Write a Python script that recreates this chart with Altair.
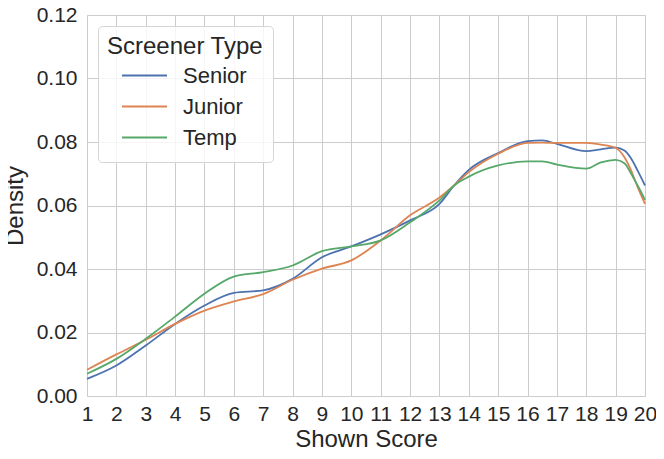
import altair as alt
import pandas as pd

xs = [1, 2, 3, 4, 5, 6, 7, 8, 9, 10, 11, 12, 13, 13.5, 14, 15, 16, 16.5, 17, 18, 18.5,
      19, 19.3, 19.5, 19.75, 20]
senior = [0.0054, 0.0096, 0.0159, 0.0227, 0.0285, 0.0325, 0.0333, 0.0369, 0.0437, 0.0471,
          0.0509, 0.0553, 0.0605, 0.0663, 0.0712, 0.0765, 0.0803, 0.0805, 0.0794, 0.0771,
          0.0777, 0.0782, 0.0773, 0.0752, 0.0710, 0.0663]
junior = [0.00825, 0.0131, 0.0177, 0.0227, 0.0269, 0.0298, 0.0321, 0.0366, 0.0401, 0.0427,
          0.0490, 0.0569, 0.0625, 0.0663, 0.0705, 0.0763, 0.0797, 0.0798, 0.0797, 0.0797,
          0.0792, 0.0782, 0.0752, 0.0716, 0.0658, 0.0605]
temp = [0.0070, 0.0117, 0.0180, 0.0250, 0.0322, 0.0376, 0.0390, 0.0411, 0.0456, 0.0471,
        0.0490, 0.0547, 0.0616, 0.0663, 0.0691, 0.0726, 0.0739, 0.0739, 0.0729, 0.0716,
        0.0736, 0.0744, 0.0733, 0.0705, 0.0663, 0.0618]
groups = ["Senior", "Junior", "Temp"]
colors = ["#4c72b0", "#dd8452", "#55a868"]

rows = []
for g, vals in zip(groups, [senior, junior, temp]):
    for x, v in zip(xs, vals):
        rows.append({"Shown Score": x, "Density": v, "Screener Type": g})
df = pd.DataFrame(rows)

font = "Liberation Sans"
txt = "#262626"
chart = alt.Chart(df).mark_line(strokeWidth=1.8, interpolate="monotone").encode(
    x=alt.X("Shown Score:Q", scale=alt.Scale(domain=[1, 20], nice=False, zero=False),
            axis=alt.Axis(values=list(range(1, 21)), format="d", labelFontSize=21,
                          titleFontSize=24, titleFontWeight="normal", labelColor=txt,
                          titleColor=txt, ticks=False, domain=False, labelPadding=7,
                          gridColor="#cccccc", labelFont=font, titleFont=font,
                          labelOverlap=False, labelFlush=False, titlePadding=3)),
    y=alt.Y("Density:Q", scale=alt.Scale(domain=[0, 0.12], nice=False),
            axis=alt.Axis(values=[0, 0.02, 0.04, 0.06, 0.08, 0.10, 0.12], format=".2f",
                          labelFontSize=21, titleFontSize=24, titleFontWeight="normal",
                          labelColor=txt, titleColor=txt, ticks=False,
                          domain=False, labelPadding=10, gridColor="#cccccc",
                          labelFont=font, titleFont=font, titlePadding=9,
                          labelFlush=False)),
    color=alt.Color("Screener Type:N", scale=alt.Scale(domain=groups, range=colors),
                    legend=alt.Legend(orient="none", legendX=11, legendY=11,
                                      titleFontSize=24, labelFontSize=22,
                                      titleFontWeight="normal", titleColor=txt,
                                      labelColor=txt, titleFont=font, labelFont=font,
                                      symbolType="stroke", symbolSize=2025,
                                      symbolStrokeWidth=2, symbolOffset=14, labelOffset=15,
                                      clipHeight=31, rowPadding=0,
                                      fillColor="rgba(255,255,255,0.8)",
                                      strokeColor="#d5d5d5", cornerRadius=4, padding=9,
                                      titlePadding=1, offset=0)),
).properties(
    width=558, height=381,
    autosize=alt.AutoSizeParams(type="none"),
    padding={"left": 79, "top": 7, "right": 11, "bottom": 54},
).configure_view(stroke="#cccccc", strokeWidth=1.2).configure(background="white")

chart.save("out.html", embed_options={"renderer": "svg", "actions": False})
